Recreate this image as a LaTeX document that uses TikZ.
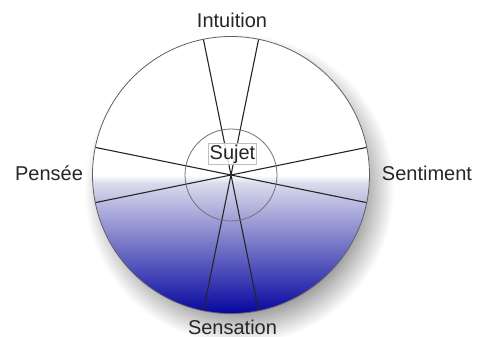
\documentclass[tikz,border=0pt]{standalone}
\usepackage{fontspec}
\setmainfont{Liberation Sans}
\definecolor{bluebot}{RGB}{6,6,160}
\definecolor{lavend}{RGB}{218,218,236}
\definecolor{rimgray}{RGB}{95,95,95}
\pgfdeclareverticalshading{jungfill}{100bp}{color(0bp)=(bluebot); color(25bp)=(bluebot); color(48.5bp)=(lavend); color(50bp)=(white); color(100bp)=(white)}
% shadow circle radius 165 -> 25bp ; grey up to r=120 (18.2bp), white from r=155 (23.5bp)
\pgfdeclareradialshading{jungshadow}{\pgfpoint{0bp}{0bp}}{color(0bp)=(black!40); color(18.2bp)=(black!40); color(20.5bp)=(black!22); color(23.5bp)=(white); color(25bp)=(white); color(50bp)=(white)}
\tikzset{
  label text/.style={font=\fontsize{20}{24}\selectfont, text=black!85, anchor=base, inner sep=0pt},
  sector line/.style={draw=black!85, line width=1.1pt},
  rim/.style={draw=rimgray, line width=0.8pt},
  sujet box/.style={font=\fontsize{20}{24}\selectfont, text=black!85, draw=black!25, fill=white, fill opacity=0.85, text opacity=1, inner sep=1.2pt, anchor=base}
}
\begin{document}
\begin{tikzpicture}[x=1pt,y=-1pt]
\useasboundingbox (0,0) rectangle (485,337);
\fill[white] (0,0) rectangle (485,337);
\coordinate (C) at (231,175);
\coordinate (S) at (239,189);
% soft shadow
\shade[shading=jungshadow] (S) circle (165);
% main disc
\fill[white] (C) circle (138.5);
\shade[shading=jungfill] (C) circle (138.5);
% sector lines (diameters)
\path (C) ++(11.5:138.5) coordinate (a1);
\path (C) ++(191.5:138.5) coordinate (a2);
\path (C) ++(-11.5:138.5) coordinate (b1);
\path (C) ++(168.5:138.5) coordinate (b2);
\path (C) ++(78.5:138.5) coordinate (c1);
\path (C) ++(258.5:138.5) coordinate (c2);
\path (C) ++(101.5:138.5) coordinate (d1);
\path (C) ++(281.5:138.5) coordinate (d2);
\draw[sector line] (a1) -- (a2);
\draw[sector line] (b1) -- (b2);
\draw[sector line] (c1) -- (c2);
\draw[sector line] (d1) -- (d2);
% circles
\draw[rim, draw=black!55] (C) circle (46);
\draw[rim] (C) circle (138.5);
% labels
\node[sujet box] (sujet) at (232.5,159) {Sujet};
\node[label text] (intuition) at (232,27.3) {Intuition};
\node[label text] (pensee) at (49,180) {Pensée};
\node[label text] (sentiment) at (427,180) {Sentiment};
\node[label text] (sensation) at (232.5,334) {Sensation};
\end{tikzpicture}
\end{document}
